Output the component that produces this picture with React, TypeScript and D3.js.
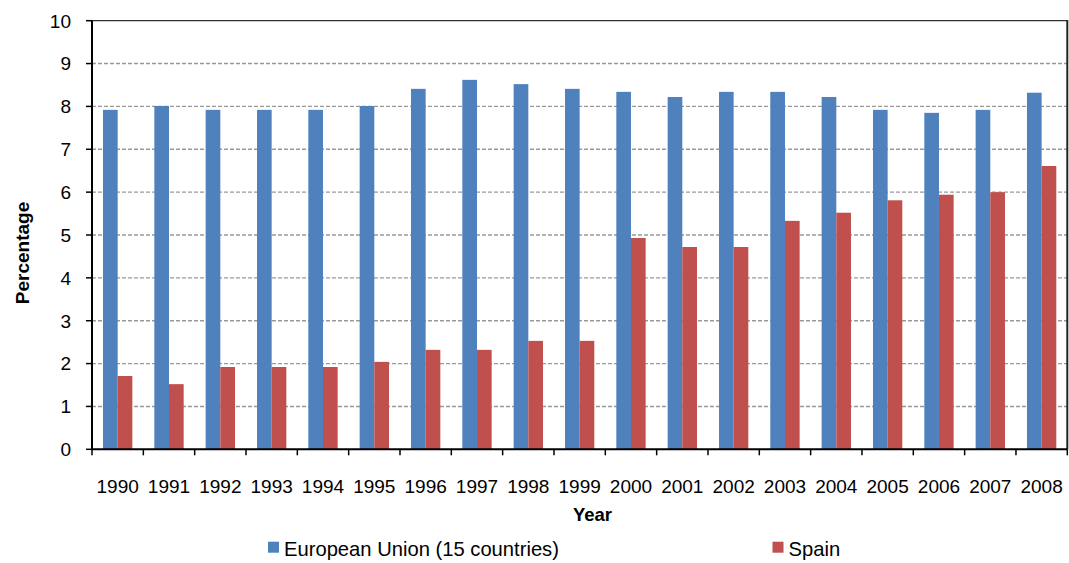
import { useEffect, useRef } from 'react';
import * as d3 from 'd3';

const years = [
  '1990', '1991', '1992', '1993', '1994', '1995', '1996', '1997', '1998', '1999',
  '2000', '2001', '2002', '2003', '2004', '2005', '2006', '2007', '2008'
];
const euValues = [7.92, 8.01, 7.92, 7.92, 7.92, 8.01, 8.41, 8.62, 8.52, 8.41, 8.34, 8.22, 8.34, 8.34, 8.22, 7.92, 7.85, 7.92, 8.32];
const spainValues = [1.71, 1.52, 1.92, 1.92, 1.92, 2.04, 2.32, 2.32, 2.53, 2.53, 4.93, 4.72, 4.72, 5.33, 5.52, 5.81, 5.94, 6.0, 6.61];
const yTicks = [0, 1, 2, 3, 4, 5, 6, 7, 8, 9, 10];
const seriesNames = ['European Union (15 countries)', 'Spain'];
const seriesColors = ['#4F81BD', '#C0504D'];

const WIDTH = 1069;
const HEIGHT = 563;
const FONT = '"Liberation Sans", Arial, sans-serif';

export default function App() {
  const svgRef = useRef<SVGSVGElement | null>(null);

  useEffect(() => {
    if (!svgRef.current) return;
    const svg = d3.select(svgRef.current);
    svg.selectAll('*').remove();

    const left = 92;
    const right = 1067.3;
    const top = 20.7;
    const bottom = 449.3;

    const x = d3.scaleBand<string>().domain(years).range([left, right]).padding(0);
    const inner = d3
      .scaleBand<number>()
      .domain([0, 1])
      .range([0, x.bandwidth()])
      .paddingInner(0)
      .paddingOuter(0.75);
    const y = d3.scaleLinear().domain([0, 10]).range([bottom, top]);

    // gridlines
    svg
      .append('g')
      .selectAll('line')
      .data(yTicks.filter(t => t > 0 && t < 10))
      .join('line')
      .attr('x1', left)
      .attr('x2', right)
      .attr('y1', d => y(d))
      .attr('y2', d => y(d))
      .attr('stroke', '#999')
      .attr('stroke-width', 1.4)
      .attr('stroke-dasharray', '4,2');

    // bars
    const series = [euValues, spainValues];
    series.forEach((vals, si) => {
      svg
        .append('g')
        .selectAll('rect')
        .data(vals)
        .join('rect')
        .attr('x', (_, i) => (x(years[i]) ?? 0) + (inner(si) ?? 0))
        .attr('width', inner.bandwidth())
        .attr('y', d => y(d))
        .attr('height', d => bottom - y(d))
        .attr('fill', seriesColors[si]);
    });

    // plot border top / right
    svg
      .append('line')
      .attr('x1', left)
      .attr('x2', right)
      .attr('y1', top)
      .attr('y2', top)
      .attr('stroke', '#333')
      .attr('stroke-width', 1.3);
    svg
      .append('line')
      .attr('x1', right)
      .attr('x2', right)
      .attr('y1', top - 0.6)
      .attr('y2', bottom)
      .attr('stroke', '#222')
      .attr('stroke-width', 2);

    // y axis
    const yAxis = svg.append('g');
    yAxis
      .append('line')
      .attr('x1', left)
      .attr('x2', left)
      .attr('y1', top)
      .attr('y2', bottom)
      .attr('stroke', '#000')
      .attr('stroke-width', 2);
    yAxis
      .selectAll('line.tick')
      .data(yTicks)
      .join('line')
      .attr('class', 'tick')
      .attr('x1', left - 6)
      .attr('x2', left)
      .attr('y1', d => y(d))
      .attr('y2', d => y(d))
      .attr('stroke', '#000')
      .attr('stroke-width', 1.5);
    yAxis
      .selectAll('text')
      .data(yTicks)
      .join('text')
      .attr('x', 71)
      .attr('y', d => y(d))
      .attr('dy', '0.36em')
      .attr('text-anchor', 'end')
      .attr('font-size', 19)
      .attr('font-family', FONT)
      .attr('fill', '#000')
      .text(d => d);

    // x axis
    const xAxis = svg.append('g');
    xAxis
      .append('line')
      .attr('x1', left)
      .attr('x2', right)
      .attr('y1', bottom)
      .attr('y2', bottom)
      .attr('stroke', '#000')
      .attr('stroke-width', 2);
    const boundaries = years.map(yr => x(yr) ?? 0).concat([right]);
    xAxis
      .selectAll('line.tick')
      .data(boundaries)
      .join('line')
      .attr('class', 'tick')
      .attr('x1', d => d)
      .attr('x2', d => d)
      .attr('y1', bottom)
      .attr('y2', bottom + 6)
      .attr('stroke', '#000')
      .attr('stroke-width', 1.5);
    xAxis
      .selectAll('text')
      .data(years)
      .join('text')
      .attr('x', d => (x(d) ?? 0) + x.bandwidth() / 2)
      .attr('y', 492.5)
      .attr('text-anchor', 'middle')
      .attr('font-size', 19)
      .attr('font-family', FONT)
      .attr('fill', '#000')
      .text(d => d);

    // axis titles
    svg
      .append('text')
      .attr('x', 592.5)
      .attr('y', 521)
      .attr('text-anchor', 'middle')
      .attr('font-size', 18.5)
      .attr('font-weight', 'bold')
      .attr('font-family', FONT)
      .text('Year');
    svg
      .append('text')
      .attr('transform', 'translate(29,253) rotate(-90)')
      .attr('text-anchor', 'middle')
      .attr('font-size', 19)
      .attr('font-weight', 'bold')
      .attr('font-family', FONT)
      .text('Percentage');

    // legend
    const legendX = [268, 772.5];
    const legend = svg
      .append('g')
      .selectAll('g')
      .data(seriesNames)
      .join('g')
      .attr('transform', (_, i) => `translate(${legendX[i]},0)`);
    legend
      .append('rect')
      .attr('x', 0)
      .attr('y', 541.7)
      .attr('width', 11)
      .attr('height', 11)
      .attr('fill', (_, i) => seriesColors[i]);
    legend
      .append('text')
      .attr('x', 16)
      .attr('y', 556)
      .attr('font-size', 20.2)
      .attr('font-family', FONT)
      .attr('fill', '#000')
      .text(d => d);
  }, []);

  return (
    <svg
      ref={svgRef}
      width={WIDTH}
      height={HEIGHT}
      style={{ position: 'absolute', left: 0, top: 0, background: '#fff' }}
    />
  );
}
